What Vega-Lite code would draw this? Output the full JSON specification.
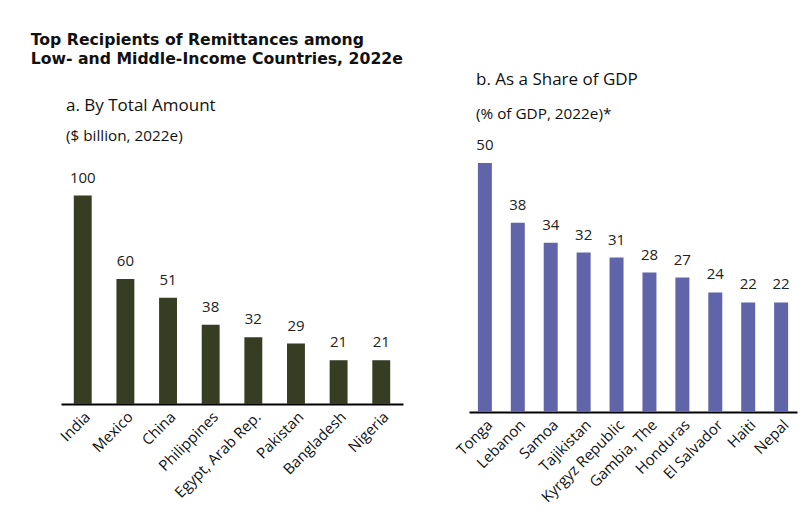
{
  "$schema": "https://vega.github.io/schema/vega-lite/v6.json",
  "background": "white",
  "padding": {"left": 30, "top": 31, "right": 5, "bottom": 5},
  "title": {
    "text": ["Top Recipients of Remittances among", "Low- and Middle-Income Countries, 2022e"],
    "anchor": "start",
    "frame": "bounds",
    "dx": -27,
    "font": "DejaVu Sans",
    "fontSize": 15.7,
    "fontWeight": "bold",
    "color": "#111111",
    "lineHeight": 19,
    "offset": 3
  },
  "spacing": 66,
  "bounds": "flush",
  "hconcat": [
    {
      "width": 342,
      "height": 251,
      "title": {
        "text": "\u00a0a. By Total Amount",
        "subtitle": "($ billion, 2022e)",
        "anchor": "start",
        "frame": "group",
        "dx": 5,
        "font": "Open Sans",
        "fontSize": 17,
        "fontWeight": "normal",
        "color": "#111111",
        "subtitleFont": "Open Sans",
        "subtitleFontSize": 15.3,
        "subtitleColor": "#111111",
        "subtitlePadding": 14,
        "offset": 8
      },
      "data": {
        "values": [
          {"country": "India", "value": 100},
          {"country": "Mexico", "value": 60},
          {"country": "China", "value": 51},
          {"country": "Philippines", "value": 38},
          {"country": "Egypt, Arab Rep.", "value": 32},
          {"country": "Pakistan", "value": 29},
          {"country": "Bangladesh", "value": 21},
          {"country": "Nigeria", "value": 21}
        ]
      },
      "encoding": {
        "x": {
          "field": "country",
          "type": "nominal",
          "sort": null,
          "scale": {"paddingInner": 0.58, "paddingOuter": 0.3},
          "axis": {"title": null, "labelAngle": -45, "labelFont": "Open Sans", "labelFontSize": 15, "labelColor": "#111111", "ticks": false, "domainColor": "#000000", "domainWidth": 2, "labelPadding": 5}
        },
        "y": {"field": "value", "type": "quantitative", "scale": {"domain": [0, 120.4], "nice": false}, "axis": null}
      },
      "layer": [
        {"mark": {"type": "bar", "color": "#363d22"}},
        {"mark": {"type": "text", "dy": -18, "font": "Open Sans", "fontSize": 15, "color": "#222222"}, "encoding": {"text": {"field": "value", "type": "quantitative"}}}
      ]
    },
    {
      "width": 328,
      "height": 259,
      "title": {
        "text": "b. As a Share of GDP",
        "subtitle": "(% of GDP, 2022e)*",
        "anchor": "start",
        "frame": "group",
        "dx": 7,
        "font": "Open Sans",
        "fontSize": 17,
        "fontWeight": "normal",
        "color": "#111111",
        "subtitleFont": "Open Sans",
        "subtitleFontSize": 15.3,
        "subtitleColor": "#111111",
        "subtitlePadding": 18,
        "offset": 15
      },
      "data": {
        "values": [
          {"country": "Tonga", "value": 50},
          {"country": "Lebanon", "value": 38},
          {"country": "Samoa", "value": 34},
          {"country": "Tajikistan", "value": 32},
          {"country": "Kyrgyz Republic", "value": 31},
          {"country": "Gambia, The", "value": 28},
          {"country": "Honduras", "value": 27},
          {"country": "El Salvador", "value": 24},
          {"country": "Haiti", "value": 22},
          {"country": "Nepal", "value": 22}
        ]
      },
      "encoding": {
        "x": {
          "field": "country",
          "type": "nominal",
          "sort": null,
          "scale": {"paddingInner": 0.575, "paddingOuter": 0.27},
          "axis": {"title": null, "labelAngle": -45, "labelFont": "Open Sans", "labelFontSize": 15, "labelColor": "#111111", "ticks": false, "domainColor": "#000000", "domainWidth": 2, "labelPadding": 5}
        },
        "y": {"field": "value", "type": "quantitative", "scale": {"domain": [0, 52], "nice": false}, "axis": null}
      },
      "layer": [
        {"mark": {"type": "bar", "color": "#5f65a8"}},
        {"mark": {"type": "text", "dy": -18, "font": "Open Sans", "fontSize": 15, "color": "#222222"}, "encoding": {"text": {"field": "value", "type": "quantitative"}}}
      ]
    }
  ],
  "config": {"view": {"stroke": null}}
}
